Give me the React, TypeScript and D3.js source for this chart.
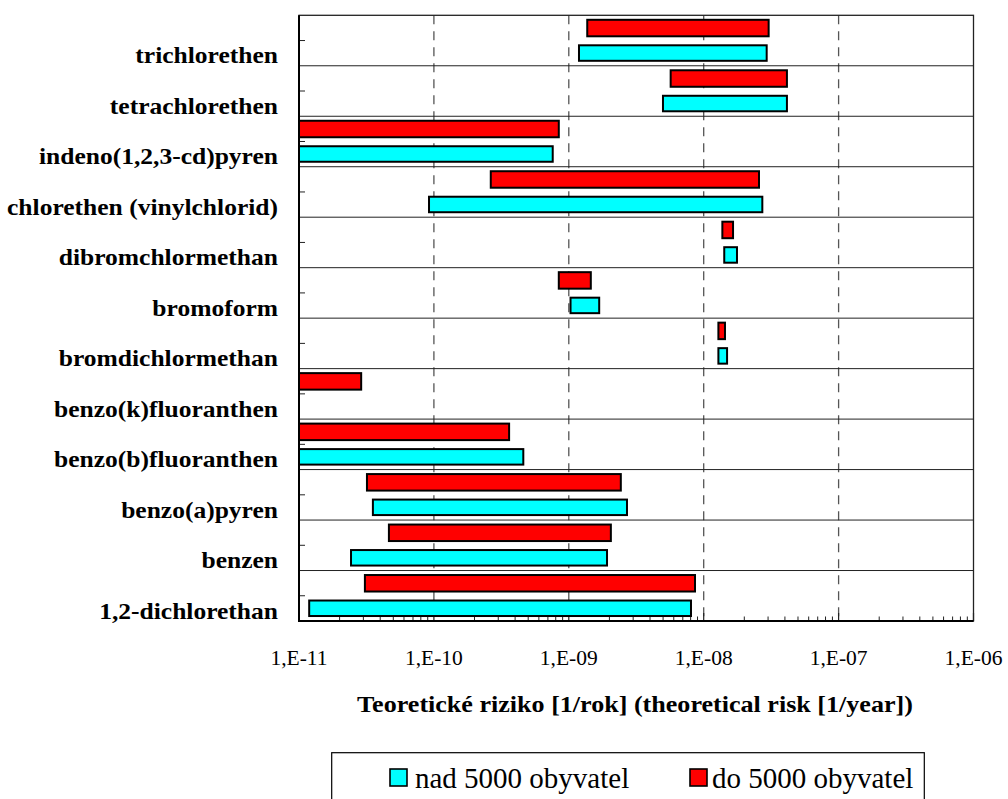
import React from 'react';
import * as d3 from 'd3';

const categories = [
  'trichlorethen',
  'tetrachlorethen',
  'indeno(1,2,3-cd)pyren',
  'chlorethen (vinylchlorid)',
  'dibromchlormethan',
  'bromoform',
  'bromdichlormethan',
  'benzo(k)fluoranthen',
  'benzo(b)fluoranthen',
  'benzo(a)pyren',
  'benzen',
  '1,2-dichlorethan',
];

// "nad 5000 obyvatel" (cyan)
const nadLow: (number | null)[] = [1.19e-9, 4.99e-9, 1e-11, 9.2e-11, 1.42e-8, 1.03e-9, 1.285e-8, null, 1e-11, 3.53e-11, 2.43e-11, 1.19e-11];
const nadHigh: (number | null)[] = [2.93e-8, 4.14e-8, 7.6e-10, 2.72e-8, 1.765e-8, 1.68e-9, 1.49e-8, null, 4.6e-10, 2.7e-9, 1.92e-9, 8.05e-9];
// "do 5000 obyvatel" (red)
const doLow: (number | null)[] = [1.37e-9, 5.69e-9, 1e-11, 2.64e-10, 1.375e-8, 8.43e-10, 1.285e-8, 1e-11, 1e-11, 3.19e-11, 4.64e-11, 3.08e-11];
const doHigh: (number | null)[] = [3.03e-8, 4.14e-8, 8.43e-10, 2.57e-8, 1.65e-8, 1.456e-9, 1.438e-8, 2.89e-11, 3.61e-10, 2.43e-9, 2.05e-9, 8.62e-9];

const tickValues = [1e-11, 1e-10, 1e-9, 1e-8, 1e-7, 1e-6];
const tickLabels = ['1,E-11', '1,E-10', '1,E-09', '1,E-08', '1,E-07', '1,E-06'];
const seriesNames = ['nad 5000 obyvatel', 'do 5000 obyvatel'];
const seriesColors = ['#00FFFF', '#FF0000'];
const axisTitle = 'Teoretické riziko [1/rok] (theoretical risk [1/year])';

const ts = { fontFamily: "'Liberation Serif'" };
const WIDEN = 1.11;

export default function App() {
  const left = 299;
  const right = 973.5;
  const top = 15.3;
  const bottom = 621;
  const x = d3.scaleLog().domain([1e-11, 1e-6]).range([left, right]).clamp(true);
  const y = d3.scaleBand<string>().domain(categories).range([top, bottom]).padding(0);
  const bw = y.bandwidth();
  const allTicks = x.ticks();
  const isMajor = (v: number) => Math.abs(Math.log10(v) - Math.round(Math.log10(v))) < 1e-6;
  const minorTicks = allTicks.filter((v) => !isMajor(v));

  const bars: { cat: string; lo: number; hi: number; s: number }[] = [];
  categories.forEach((c, i) => {
    if (doLow[i] != null && doHigh[i] != null) bars.push({ cat: c, lo: doLow[i] as number, hi: doHigh[i] as number, s: 1 });
    if (nadLow[i] != null && nadHigh[i] != null) bars.push({ cat: c, lo: nadLow[i] as number, hi: nadHigh[i] as number, s: 0 });
  });

  return (
    <svg width={1008} height={799} style={{ position: 'absolute', left: 0, top: 0, background: '#fff' }}>
      <rect x={0} y={0} width={1008} height={799} fill="#fff" />
      {tickValues.slice(1, -1).map((v) => (
        <line key={'g' + v} x1={x(v)} x2={x(v)} y1={top} y2={bottom} stroke="#555" strokeWidth={1.3} strokeDasharray="9,7" />
      ))}
      {categories.slice(1).map((c) => (
        <line key={'h' + c} x1={left} x2={right} y1={y(c)} y2={y(c)} stroke="#222" strokeWidth={1} />
      ))}
      {categories.map((c) => (
        <line key={'yt' + c} x1={left} x2={left + 6} y1={(y(c) as number) + bw / 2} y2={(y(c) as number) + bw / 2} stroke="#222" strokeWidth={1} />
      ))}
      {minorTicks.map((v) => (
        <line key={'mt' + v} x1={x(v)} x2={x(v)} y1={bottom} y2={bottom - 4.5} stroke="#222" strokeWidth={1} />
      ))}
      {tickValues.map((v) => (
        <line key={'Mt' + v} x1={x(v)} x2={x(v)} y1={bottom} y2={bottom - 8} stroke="#222" strokeWidth={1.2} />
      ))}
      {bars.map((b, i) => {
        const y0 = (y(b.cat) as number) + (b.s === 1 ? 4.5 : 30);
        const h = b.s === 1 ? 16.5 : 15.5;
        return (
          <rect key={'b' + i} x={x(b.lo)} y={y0} width={x(b.hi) - x(b.lo)} height={h} fill={seriesColors[b.s]} stroke="#000" strokeWidth={2} />
        );
      })}
      <rect x={left} y={top} width={right - left} height={bottom - top} fill="none" stroke="#222" strokeWidth={1.3} />
      <line x1={left} x2={left} y1={top} y2={bottom + 1} stroke="#000" strokeWidth={2} />
      <line x1={left - 1} x2={right} y1={bottom} y2={bottom} stroke="#000" strokeWidth={2} />
      {categories.map((c) => (
        <text
          key={'l' + c}
          transform={`translate(278,${(y(c) as number) + bw - 2.5}) scale(${WIDEN},1)`}
          textAnchor="end"
          fontWeight="bold"
          fontSize={23}
          fill="#000"
          style={ts}
        >
          {c}
        </text>
      ))}
      {tickValues.map((v, i) => (
        <text key={'tl' + v} x={x(v)} y={665} textAnchor="middle" fontSize={21.5} fill="#000" style={ts}>
          {tickLabels[i]}
        </text>
      ))}
      <text transform={`translate(635,712.3) scale(${WIDEN},1)`} textAnchor="middle" fontWeight="bold" fontSize={23.5} fill="#000" style={ts}>
        {axisTitle}
      </text>
      <rect x={331.7} y={752.7} width={592.6} height={70} fill="#fff" stroke="#000" strokeWidth={1.2} />
      <rect x={390} y={769} width={17} height={17} fill={seriesColors[0]} stroke="#000" strokeWidth={1.6} />
      <text x={415} y={788} fontSize={29} fill="#000" style={ts}>{seriesNames[0]}</text>
      <rect x={690} y={769} width={17} height={17} fill={seriesColors[1]} stroke="#000" strokeWidth={1.6} />
      <text x={712} y={788} fontSize={29} fill="#000" style={ts}>{seriesNames[1]}</text>
    </svg>
  );
}
